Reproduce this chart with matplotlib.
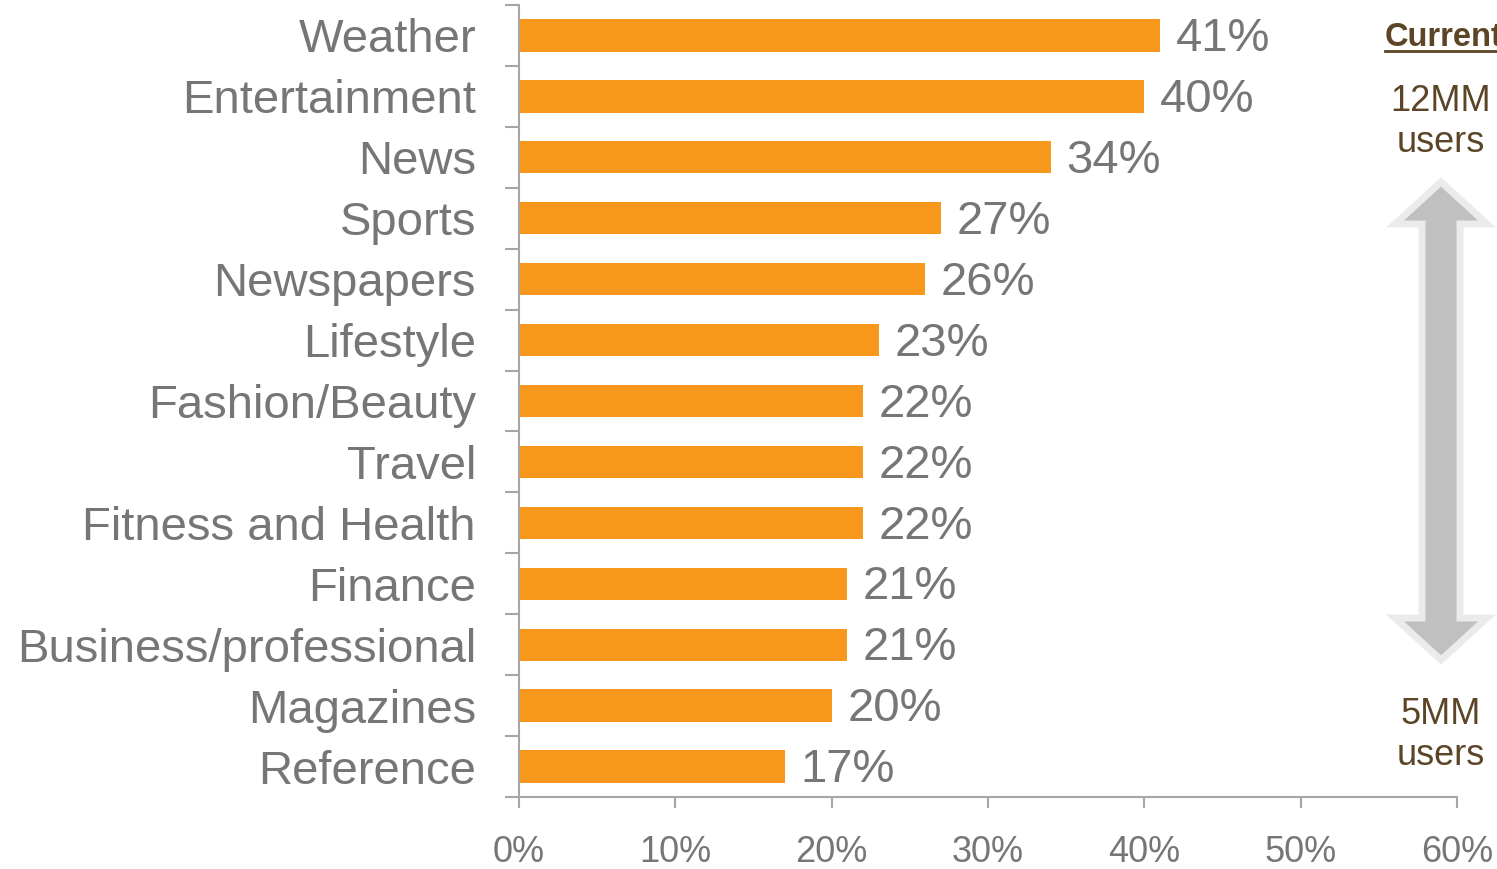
import matplotlib
matplotlib.use("Agg")
import matplotlib.pyplot as plt
from matplotlib.patches import Polygon
from matplotlib.ticker import FixedLocator

plt.rcParams['font.family'] = ['Liberation Sans', 'DejaVu Sans']

categories = ["Weather", "Entertainment", "News", "Sports", "Newspapers",
              "Lifestyle", "Fashion/Beauty", "Travel", "Fitness and Health",
              "Finance", "Business/professional", "Magazines", "Reference"]
shares = [41, 40, 34, 27, 26, 23, 22, 22, 22, 21, 21, 20, 17]
x_ticks = [0, 10, 20, 30, 40, 50, 60]
x_tick_labels = ["0%", "10%", "20%", "30%", "40%", "50%", "60%"]

bar_color = "#F7981D"
text_gray = "#767676"
axis_gray = "#A6A6A6"
brown = "#5B4526"

W, H = 1497, 869
fig = plt.figure(figsize=(W / 100, H / 100), dpi=100)
ax = fig.add_axes([519 / W, 1 - 797 / H, (1457 - 519) / W, (797 - 5) / H])

n = len(categories)
ypos = list(range(n))[::-1]
ax.barh(ypos, shares, height=0.53, color=bar_color)

# value labels to the right of each bar
for y, v in zip(ypos, shares):
    ax.text(v + 1.0, y - 0.06, f"{v}%", va="center", ha="left", fontsize=34, color=text_gray)

ax.set_xlim(0, 60)
ax.set_ylim(-0.5, n - 0.5)
ax.set_yticks(ypos)
ax.set_yticklabels(categories, fontsize=34, color=text_gray)
ax.yaxis.set_minor_locator(FixedLocator([i - 0.5 for i in range(n + 1)]))
ax.tick_params(axis="y", which="major", length=0, pad=31)
ax.tick_params(axis="y", which="minor", length=10, width=1.5, color=axis_gray)

ax.set_xticks(x_ticks)
ax.set_xticklabels(x_tick_labels, fontsize=26, color=text_gray)
ax.tick_params(axis="x", which="major", length=8, width=1.5, color=axis_gray, pad=19)

for side in ["top", "right"]:
    ax.spines[side].set_visible(False)
for side in ["left", "bottom"]:
    ax.spines[side].set_color(axis_gray)
    ax.spines[side].set_linewidth(1.5)

# right-hand annotation: user-count arrow
cx = 1441
fig.text(1444 / W, 1 - 37 / H, "Current", ha="center", va="center", fontsize=23.5,
         fontweight="bold", color=brown)
fig.add_artist(plt.Line2D([1385 / W, 1500 / W], [1 - 51 / H, 1 - 51 / H],
                          color=brown, linewidth=2))
fig.text(cx / W, 1 - 122 / H, "12MM\nusers", ha="center", va="center", fontsize=26,
         color=brown, linespacing=1.25)
fig.text(cx / W, 1 - 735 / H, "5MM\nusers", ha="center", va="center", fontsize=26,
         color=brown, linespacing=1.25)

top, bot, hb, hw, sw = 182, 660, 42, 46, 19
pts = [(cx, top), (cx + hw, top + hb), (cx + sw, top + hb), (cx + sw, bot - hb),
       (cx + hw, bot - hb), (cx, bot), (cx - hw, bot - hb), (cx - sw, bot - hb),
       (cx - sw, top + hb), (cx - hw, top + hb)]
pts = [(px / W, 1 - py / H) for px, py in pts]
fig.add_artist(Polygon(pts, closed=True, facecolor="#C0C0C0", edgecolor="#EBEBEB",
                       linewidth=5, transform=fig.transFigure))

fig.savefig("out.png", dpi=100)
